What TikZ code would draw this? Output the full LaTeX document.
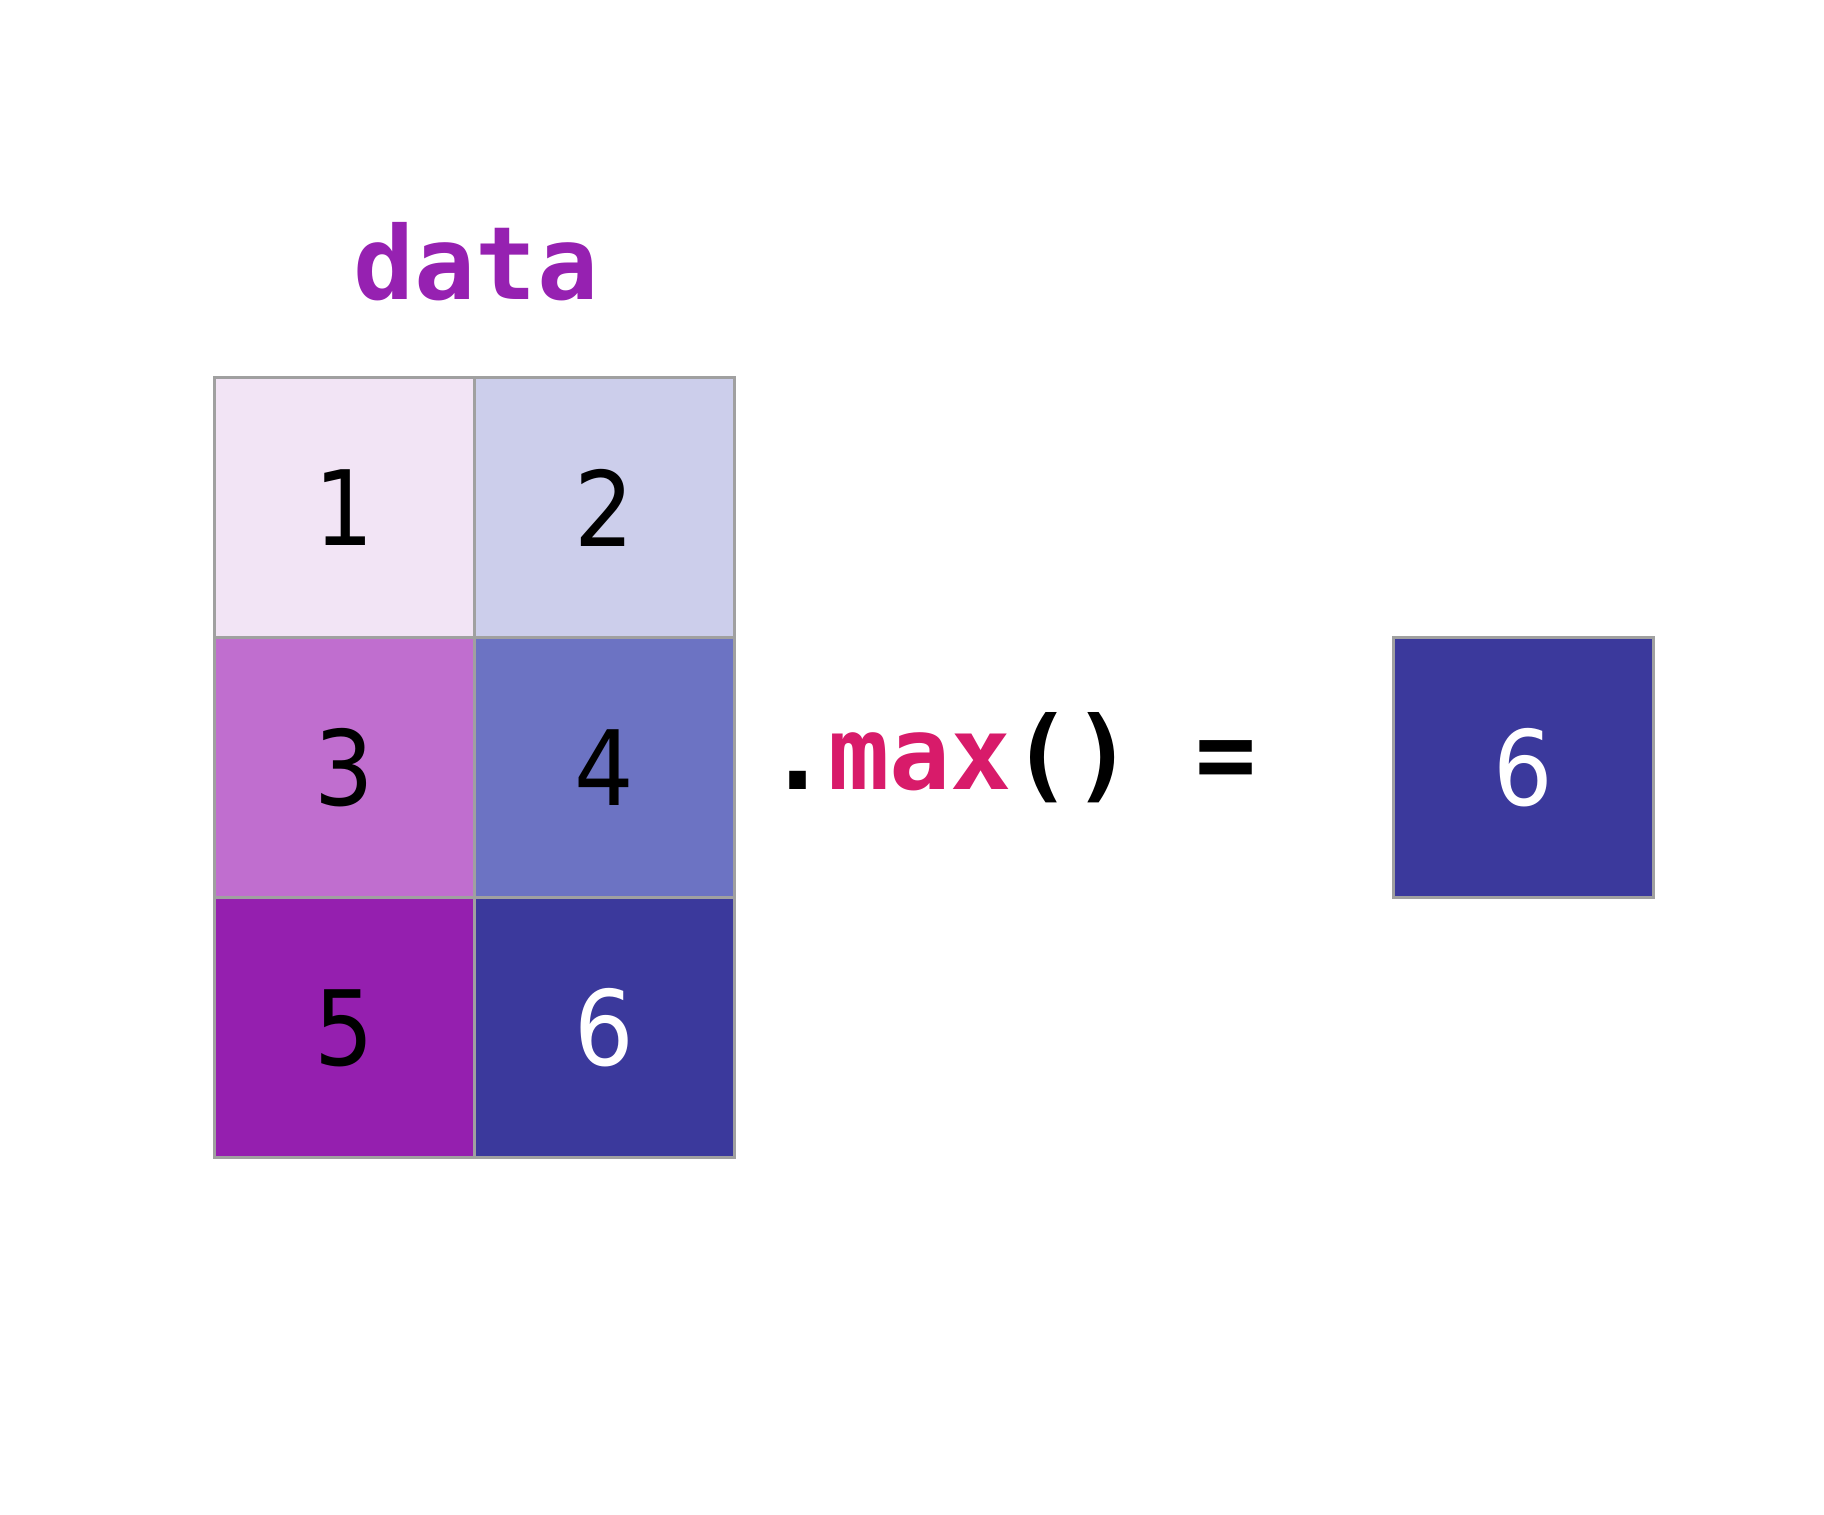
\documentclass[tikz,border=0pt]{standalone}
\usepackage{fontspec}
\setmainfont{DejaVu Sans}
\setmonofont{DejaVu Sans Mono}
\newfontfamily\digitfont{DejaVu Sans}[FakeStretch=0.9]

\definecolor{cellA}{HTML}{F2E4F5}
\definecolor{cellB}{HTML}{CCCEEB}
\definecolor{cellC}{HTML}{C06ECF}
\definecolor{cellD}{HTML}{6C73C3}
\definecolor{cellE}{HTML}{951FAF}
\definecolor{cellF}{HTML}{3B399C}
\definecolor{cellborder}{HTML}{A0A0A0}
\definecolor{datapurple}{HTML}{9621B1}
\definecolor{maxpink}{HTML}{D81B6A}

\tikzset{
	cell/.style={draw=cellborder, line width=1.5pt, minimum width=130pt, minimum height=130pt,
		inner sep=0pt, font=\fontsize{52}{60}\digitfont},
	code/.style={font=\fontsize{50.75}{60}\selectfont\ttfamily\bfseries, inner sep=0pt}
}

\begin{document}
\begin{tikzpicture}[x=0.5pt, y=0.5pt]
	\useasboundingbox[fill=white] (0, 0) rectangle (1824, 1514);

	% array name
	\node[code, text=datapurple, anchor=base] (title) at (476, 1214) {data};

	% array cells
	\foreach \n/\x/\y/\col/\txt in {1/344/1006/cellA/black, 2/604/1006/cellB/black,
		3/344/746/cellC/black, 4/604/746/cellD/black,
		5/344/486/cellE/black, 6/604/486/cellF/white}
		\node[cell, fill=\col, text=\txt] (c\n) at (\x, \y) {\n};

	% method call
	\node[code, anchor=base west] (expr) at (767, 724) {.\textcolor{maxpink}{max}() =};

	% result
	\node[cell, fill=cellF, text=white] (res) at (1523, 746) {6};
\end{tikzpicture}
\end{document}
